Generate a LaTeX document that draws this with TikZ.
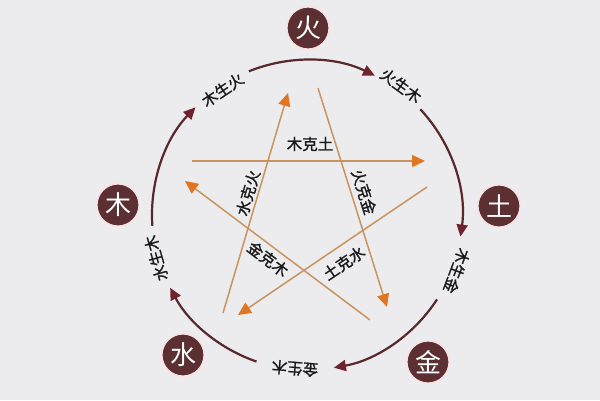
\documentclass[tikz,border=0pt]{standalone}
\usepackage{fontspec}
\newfontfamily\cjk{Noto Sans CJK SC}
\newfontfamily\cjkb[FakeBold=1.3]{Noto Sans CJK SC}
\usepackage{xcolor}
\usetikzlibrary{arrows.meta, calc}
\definecolor{bgc}{RGB}{236,235,237}
\definecolor{ringc}{RGB}{88,40,44}
\definecolor{ringtip}{RGB}{112,34,46}
\definecolor{elemc}{RGB}{92,48,50}
\definecolor{starc}{RGB}{202,148,94}
\definecolor{startip}{RGB}{224,118,34}

\begin{document}
\begin{tikzpicture}[x=1pt, y=1pt, font=\cjk,
  elem/.style={circle, fill=elemc, draw=red!12, line width=1.2pt, text=white,
               minimum size=42pt, inner sep=0pt, font=\cjk\fontsize{26}{26}\selectfont},
  rlab/.style={inner sep=1pt, text=black!90, font=\cjkb\fontsize{15.5}{15.5}\selectfont},
  klab/.style={rlab},
  ring/.style={draw=ringc, line width=2.2pt,
               -{Triangle[length=12pt, width=11pt, color=ringtip]}},
  ke/.style={draw=starc, line width=1.5pt,
             -{Triangle[length=13pt, width=12pt, color=startip]}}]
\useasboundingbox (0,0) rectangle (600,-400);
\fill[bgc] (0,0) rectangle (600,-400);
\coordinate (c) at (307,-215);
% outer ring: sheng arcs
\foreach \a/\b in {112/64, 43/-8, -33/-80, -109/-152, 184/136}
  \draw[ring] (c) ++(\a:155) arc[start angle=\a, end angle=\b, radius=155];
% ring labels
\node[rlab, rotate=-36]    (r1) at ($(c)+(54:160)$)    {火生木};
\node[rlab, rotate=-110.5] (r2) at ($(c)+(-20.5:160)$) {木生金};
\node[rlab, rotate=175.5]  (r3) at ($(c)+(-94.5:154)$) {金生木};
\node[rlab, rotate=106]    (r4) at ($(c)+(-164:157)$)  {水生木};
\node[rlab, rotate=34]     (r5) at ($(c)+(124:151)$)   {木生火};
% elements
\node[elem] (huo)  at (308,-28)  {火};
\node[elem] (tu)   at (499,-206) {土};
\node[elem] (jin)  at (428,-362) {金};
\node[elem] (shui) at (183,-355) {水};
\node[elem] (mu)   at (118,-205) {木};
% inner star: ke arrows
\coordinate (k1a) at (192,-161); \coordinate (k1b) at (425,-161);
\coordinate (k2a) at (223,-313); \coordinate (k2b) at (288,-93);
\coordinate (k3a) at (318,-88);  \coordinate (k3b) at (387,-307);
\coordinate (k4a) at (370,-320); \coordinate (k4b) at (185,-181);
\coordinate (k5a) at (427,-187); \coordinate (k5b) at (238,-315);
\draw[ke] (k1a)--(k1b); \draw[ke] (k2a)--(k2b); \draw[ke] (k3a)--(k3b);
\draw[ke] (k4a)--(k4b); \draw[ke] (k5a)--(k5b);
% star labels
\node[klab]              (t1) at (310,-144) {木克土};
\node[klab, rotate=73.5] (t2) at (248,-193) {水克火};
\node[klab, rotate=-72.5](t3) at (364,-192) {火克金};
\node[klab, rotate=-37]  (t4) at (268,-259) {金克木};
\node[klab, rotate=34]   (t5) at (344,-263) {土克水};
\end{tikzpicture}
\end{document}
